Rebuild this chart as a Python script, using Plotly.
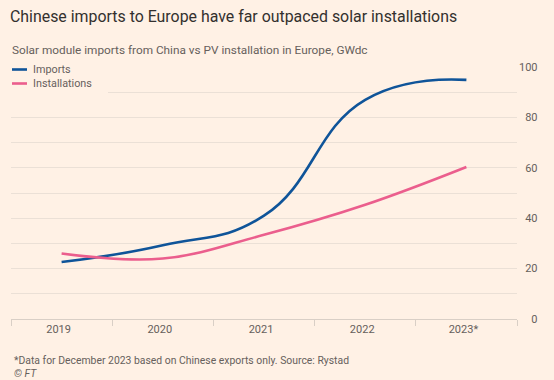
import plotly.graph_objects as go

years = ["2019", "2020", "2021", "2022", "2023*"]
imports = [22.6, 29.3, 41.0, 87.0, 94.9]
installations = [26.0, 24.0, 33.4, 45.3, 60.3]
y_ticks = [0, 20, 40, 60, 80, 100]
y_ticktext = ["\u2007\u20070", "\u200720", "\u200740", "\u200760", "\u200780", "100"]
series_names = ["Imports", "Installations"]
series_colors = ["#0f5499", "#eb5e8d"]

BG = "#fff1e5"
FONT = "Roboto"
GRAY = "#66605c"

# plot area in pixels (for converting legend placement to paper coords)
L, R, T, B, W, H = 11, 37, 67, 61, 554, 380
PW, PH = W - L - R, H - T - B


def px_x(px):
    return (px - L) / PW


def px_y(py):
    return (H - B - py) / PH


fig = go.Figure()
fig.add_trace(go.Scatter(x=years, y=imports, name=series_names[0], mode="lines",
                         line=dict(color=series_colors[0], width=2.6, shape="spline", smoothing=1.3)))
fig.add_trace(go.Scatter(x=years, y=installations, name=series_names[1], mode="lines",
                         line=dict(color=series_colors[1], width=2.6, shape="spline", smoothing=1.1)))

fig.update_layout(
    width=W, height=H,
    paper_bgcolor=BG, plot_bgcolor=BG,
    margin=dict(l=L, r=R, t=T, b=B, autoexpand=False),
    font=dict(family=FONT, color=GRAY, size=11),
    title=dict(text="Chinese imports to Europe have far outpaced solar installations",
               x=10 / W, xref="container", xanchor="left",
               y=1 - 16 / H, yref="container", yanchor="middle",
               font=dict(family=FONT, size=15.9, color="#33302e")),
    showlegend=False,
    xaxis=dict(type="category", range=[-0.5, 4.5], tickson="boundaries",
               ticks="outside", ticklen=6, tickcolor="#d9cfc6",
               showgrid=False, showline=True, linecolor="#d9cfc6", linewidth=1,
               tickfont=dict(size=11, color=GRAY), ticklabelshift=-3),
    yaxis=dict(side="right", range=[0, 100], tickvals=y_ticks, ticktext=y_ticktext,
               showgrid=True, gridcolor="#ebe0d6", gridwidth=1,
               minor=dict(dtick=10, showgrid=True, gridcolor="#ebe0d6", gridwidth=1),
               zeroline=False, ticks="", ticklabelstandoff=1,
               tickfont=dict(size=11, color=GRAY)),
)

# legend block: mask gridlines behind it, then swatches and labels
fig.add_shape(type="rect", xref="paper", yref="paper",
              x0=px_x(0), x1=px_x(108), y0=px_y(98), y1=px_y(60),
              fillcolor=BG, line=dict(width=0), layer="above")
for i, (name, color) in enumerate(zip(series_names, series_colors)):
    yy = 69.5 + i * 14
    fig.add_shape(type="line", xref="paper", yref="paper",
                  x0=px_x(12), x1=px_x(27), y0=px_y(yy), y1=px_y(yy),
                  line=dict(color=color, width=2.6), layer="above")
    fig.add_annotation(text=name, xref="paper", yref="paper",
                       x=px_x(31), y=px_y(yy), xanchor="left", yanchor="middle",
                       showarrow=False, font=dict(size=10.8, color=GRAY))

fig.add_annotation(text="Solar module imports from China vs PV installation in Europe, GWdc",
                   xref="paper", yref="paper", x=-0.002, y=1.0, yshift=17,
                   xanchor="left", yanchor="middle", showarrow=False,
                   font=dict(size=11.8, color=GRAY))
fig.add_annotation(text="*Data for December 2023 based on Chinese exports only. Source: Rystad",
                   xref="paper", yref="paper", x=0.002, y=0, yshift=-41,
                   xanchor="left", yanchor="middle", showarrow=False,
                   font=dict(size=10.4, color=GRAY))
fig.add_annotation(text="<i>© FT</i>",
                   xref="paper", yref="paper", x=0.002, y=0, yshift=-54,
                   xanchor="left", yanchor="middle", showarrow=False,
                   font=dict(size=10.4, color=GRAY))

fig.write_html("out.html", config={"displayModeBar": False},
               post_script="document.body.style.margin='0';document.body.style.background='#fff1e5';")
